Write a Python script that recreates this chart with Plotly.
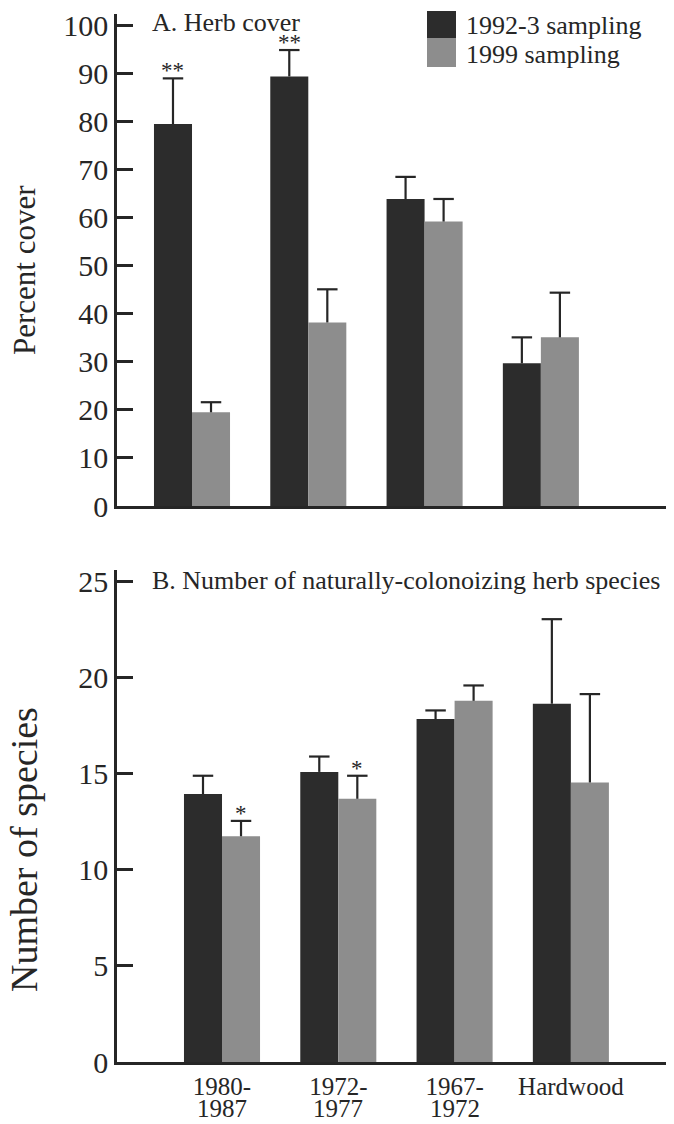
import plotly.graph_objects as go

# ---------------- data ----------------
categories = ["1980-1987", "1972-1977", "1967-1972", "Hardwood"]
cat_line1 = ["1980-", "1972-", "1967-", "Hardwood"]
cat_line2 = ["1987", "1977", "1972", ""]
series_names = ["1992-3 sampling", "1999 sampling"]

cover_1992 = [79.5, 89.4, 63.9, 29.7]
cover_1992_err = [9.5, 5.5, 4.6, 5.4]
cover_1999 = [19.5, 38.2, 59.2, 35.1]
cover_1999_err = [2.1, 6.9, 4.7, 9.3]
cover_sig_1992 = ["**", "**", "", ""]
cover_sig_1999 = ["", "", "", ""]

species_1992 = [13.95, 15.1, 17.85, 18.65]
species_1992_err = [0.95, 0.8, 0.45, 4.4]
species_1999 = [11.75, 13.7, 18.8, 14.55]
species_1999_err = [0.8, 1.2, 0.8, 4.6]
species_sig_1992 = ["", "", "", ""]
species_sig_1999 = ["*", "*", "", ""]

cover_ticks = list(range(0, 101, 10))
species_ticks = list(range(0, 26, 5))

# ---------------- styling ----------------
W, H = 674, 1124
ML, MR, MT, MB = 117, 8, 14, 62
PW = W - ML - MR
PH = H - MT - MB
FONT = "Liberation Serif, Times New Roman, serif"
INK = "#262626"
DARK = "#2c2c2c"
GRAY = "#8d8d8d"
BW = 0.327      # bar width in category units
CAP = 0.088     # half width of error caps
idx = list(range(len(categories)))


def fx(px):
    return (px - ML) / PW


def fy(py):
    return (H - MB - py) / PH


def whiskers(vals, errs, side):
    xs, ys = [], []
    for i, v, e in zip(idx, vals, errs):
        xc = i + side * BW / 2
        xs += [xc, xc, None, xc - CAP, xc + CAP, None]
        ys += [v, v + e, None, v + e, v + e, None]
    return xs, ys


fig = go.Figure()

panels = [
    ("x", "y", cover_1992, cover_1992_err, cover_1999, cover_1999_err,
     cover_sig_1992, cover_sig_1999),
    ("x2", "y2", species_1992, species_1992_err, species_1999, species_1999_err,
     species_sig_1992, species_sig_1999),
]

annotations = []
for xa, ya, v1, e1, v2, e2, s1, s2 in panels:
    fig.add_trace(go.Bar(x=idx, y=v1, width=BW, offset=-BW, name=series_names[0],
                         marker=dict(color=DARK, line=dict(width=0)),
                         xaxis=xa, yaxis=ya, showlegend=False))
    fig.add_trace(go.Bar(x=idx, y=v2, width=BW, offset=0, name=series_names[1],
                         marker=dict(color=GRAY, line=dict(width=0)),
                         xaxis=xa, yaxis=ya, showlegend=False))
    for vals, errs, side in ((v1, e1, -1), (v2, e2, 1)):
        wx, wy = whiskers(vals, errs, side)
        fig.add_trace(go.Scatter(x=wx, y=wy, mode="lines",
                                 line=dict(color=INK, width=2.2),
                                 xaxis=xa, yaxis=ya, showlegend=False,
                                 hoverinfo="skip"))
    for vals, errs, sigs, side in ((v1, e1, s1, -1), (v2, e2, s2, 1)):
        for i, v, e, s in zip(idx, vals, errs, sigs):
            if s:
                annotations.append(dict(
                    x=i + side * BW / 2, y=v + e, xref=xa, yref=ya,
                    text=s, showarrow=False, yanchor="bottom",
                    yshift=-7, font=dict(size=23, color=INK, family=FONT)))

# second line of category labels
for i, t in zip(idx, cat_line2):
    if t:
        annotations.append(dict(x=i, y=fy(1108), xref="x2", yref="paper",
                                text=t, showarrow=False, yanchor="middle",
                                borderpad=0,
                                font=dict(size=25, color=INK, family=FONT)))

# panel titles
annotations.append(dict(x=fx(150), y=fy(22), xref="paper", yref="paper",
                        text="A. Herb cover", showarrow=False,
                        xanchor="left", yanchor="middle",
                        font=dict(size=26, color=INK, family=FONT)))
annotations.append(dict(x=fx(150), y=fy(580), xref="paper", yref="paper",
                        text="B. Number of naturally-colonoizing herb species",
                        showarrow=False, xanchor="left", yanchor="middle",
                        font=dict(size=26, color=INK, family=FONT)))

# y axis titles
annotations.append(dict(x=fx(24), y=fy(270), xref="paper", yref="paper",
                        text="Percent cover", textangle=-90, showarrow=False,
                        xanchor="center", yanchor="middle",
                        font=dict(size=31, color=INK, family=FONT)))
annotations.append(dict(x=fx(24), y=fy(850), xref="paper", yref="paper",
                        text="Number of species", textangle=-90, showarrow=False,
                        xanchor="center", yanchor="middle",
                        font=dict(size=38, color=INK, family=FONT)))

# legend (drawn manually)
shapes = [
    dict(type="rect", xref="paper", yref="paper", x0=fx(427), x1=fx(456),
         y0=fy(38), y1=fy(11), fillcolor=DARK, line=dict(width=0)),
    dict(type="rect", xref="paper", yref="paper", x0=fx(427), x1=fx(456),
         y0=fy(67), y1=fy(38), fillcolor=GRAY, line=dict(width=0)),
]
for name, py in zip(series_names, (26, 55)):
    annotations.append(dict(x=fx(464), y=fy(py), xref="paper", yref="paper",
                            text=name, showarrow=False, xanchor="left",
                            yanchor="middle",
                            font=dict(size=26, color=INK, family=FONT)))

axis_common = dict(showgrid=False, zeroline=False, showline=True,
                   linecolor=INK, linewidth=2.5)

fig.update_layout(
    width=W, height=H,
    margin=dict(l=ML, r=MR, t=MT, b=MB),
    paper_bgcolor="white", plot_bgcolor="white",
    font=dict(family=FONT, color=INK),
    barmode="overlay",
    showlegend=False,
    annotations=annotations,
    shapes=shapes,
    xaxis=dict(domain=[0, 1], anchor="y", range=[-0.645, 4.076],
               showticklabels=False, ticks="", **axis_common),
    yaxis=dict(domain=[fy(506), 1], anchor="x", range=[0, 102.4],
               tickvals=cover_ticks, ticks="inside", ticklen=16,
               tickwidth=2.5, tickcolor=INK, ticklabelstandoff=0,
               tickfont=dict(size=30, color=INK, family=FONT), **axis_common),
    xaxis2=dict(domain=[0, 1], anchor="y2", range=[-0.903, 3.818],
                tickvals=idx, ticktext=cat_line1, ticks="",
                tickfont=dict(size=25, color=INK, family=FONT),
                ticklabelstandoff=0, **axis_common),
    yaxis2=dict(domain=[0, fy(570)], anchor="x2", range=[0, 25.61],
                tickvals=species_ticks, ticks="inside", ticklen=16,
                tickwidth=2.5, tickcolor=INK, ticklabelstandoff=0,
                tickfont=dict(size=30, color=INK, family=FONT), **axis_common),
)

fig.write_html(
    "out.html",
    config={"displayModeBar": False},
    post_script="document.body.style.margin='0';document.body.style.overflow='hidden';",
)
